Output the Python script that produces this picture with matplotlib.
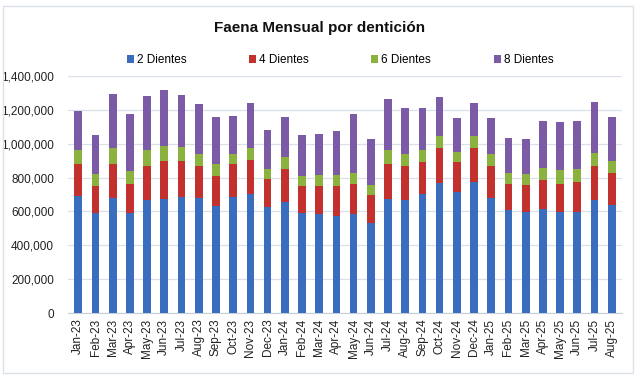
import numpy as np
import matplotlib.pyplot as plt
from matplotlib.patches import Rectangle
from matplotlib.ticker import FuncFormatter

months = ['Jan-23', 'Feb-23', 'Mar-23', 'Apr-23', 'May-23', 'Jun-23', 'Jul-23', 'Aug-23',
          'Sep-23', 'Oct-23', 'Nov-23', 'Dec-23', 'Jan-24', 'Feb-24', 'Mar-24', 'Apr-24',
          'May-24', 'Jun-24', 'Jul-24', 'Aug-24', 'Sep-24', 'Oct-24', 'Nov-24', 'Dec-24',
          'Jan-25', 'Feb-25', 'Mar-25', 'Apr-25', 'May-25', 'Jun-25', 'Jul-25', 'Aug-25']

dientes_2 = [693000, 589000, 681000, 593000, 669000, 675000, 687000, 677000,
             634000, 687000, 701000, 628000, 658000, 589000, 585000, 575000,
             585000, 530000, 675000, 669000, 701000, 770000, 717000, 776000,
             681000, 610000, 599000, 616000, 599000, 599000, 669000, 638000]
dientes_4 = [189000, 159000, 197000, 171000, 197000, 225000, 213000, 191000,
             177000, 191000, 205000, 166000, 195000, 161000, 165000, 175000,
             177000, 167000, 207000, 199000, 193000, 205000, 177000, 199000,
             185000, 150000, 157000, 172000, 165000, 177000, 201000, 191000]
dientes_6 = [83000, 75000, 97000, 77000, 95000, 85000, 79000, 73000,
             71000, 59000, 69000, 59000, 68000, 59000, 63000, 63000,
             67000, 59000, 79000, 69000, 71000, 69000, 59000, 69000,
             75000, 69000, 67000, 69000, 83000, 77000, 77000, 71000]
dientes_8 = [230000, 228000, 321000, 336000, 323000, 330000, 311000, 296000,
             278000, 229000, 265000, 226000, 239000, 242000, 246000, 262000,
             348000, 270000, 301000, 276000, 244000, 234000, 197000, 198000,
             209000, 205000, 205000, 277000, 283000, 281000, 299000, 256000]

series = [('2 Dientes', dientes_2, '#3B6DBE'),
          ('4 Dientes', dientes_4, '#C3312E'),
          ('6 Dientes', dientes_6, '#8BB23F'),
          ('8 Dientes', dientes_8, '#7B5AA6')]

plt.rcParams['font.family'] = ['Liberation Sans', 'DejaVu Sans']

fig = plt.figure(figsize=(6.4, 3.81), dpi=100)
ax = fig.add_axes([68 / 640, 1 - 313 / 381, (622 - 68) / 640, (313 - 76) / 381])

x = np.arange(len(months))
bottom = np.zeros(len(months))
for name, vals, col in series:
    vals = np.array(vals)
    ax.bar(x, vals, width=0.45, bottom=bottom, color=col, label=name, zorder=3)
    bottom += vals

ax.set_ylim(0, 1400000)
ax.set_yticks(np.arange(0, 1400001, 200000))
ax.yaxis.set_major_formatter(FuncFormatter(lambda v, p: f'{int(v):,}'))
ax.set_xlim(-0.6, len(months) - 0.4)
ax.set_xticks(x)
ax.set_xticklabels(months, rotation=90, fontsize=8.5, color='#222222')
ax.tick_params(axis='y', length=0, labelsize=8.5, labelcolor='#222222', pad=10)
ax.tick_params(axis='x', length=0, pad=4)
ax.grid(axis='y', color='#D9E0EA', linewidth=0.9, zorder=0)
for s in ['left', 'right', 'top']:
    ax.spines[s].set_visible(False)
ax.spines['bottom'].set_color('#C8CED8')

fig.text(0.5, 1 - 28 / 381, 'Faena Mensual por dentición', ha='center', va='center',
         fontsize=11, fontweight='bold', color='#111111')
fig.legend(loc='center', bbox_to_anchor=(340 / 640, 1 - 60 / 381), ncol=4, frameon=False,
           fontsize=8.5, handlelength=0.6, handleheight=0.6, handletextpad=0.25,
           columnspacing=5.3)

fig.add_artist(Rectangle((3 / 640, 1 - 373 / 381), 630 / 640, 367 / 381,
                         transform=fig.transFigure, fill=False,
                         edgecolor='#DCE1E8', linewidth=1))

plt.savefig('out.png', dpi=100)
